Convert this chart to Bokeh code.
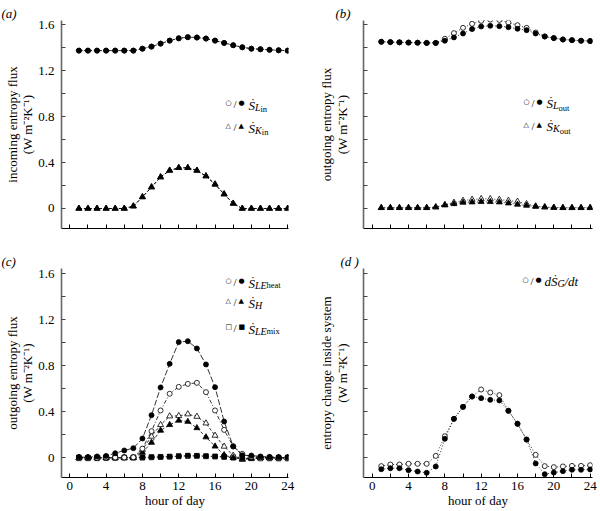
from bokeh.plotting import figure
from bokeh.layouts import gridplot
from bokeh.models import Label, FixedTicker, Range1d
from bokeh.embed import file_html
from bokeh.resources import INLINE

# ---------------- data ----------------
hours = list(range(1, 25))

# (a) incoming entropy flux
s_lin_open = [1.373, 1.373, 1.373, 1.373, 1.373, 1.373, 1.373, 1.39, 1.408, 1.434, 1.46, 1.48,
              1.49, 1.487, 1.478, 1.46, 1.44, 1.42, 1.402, 1.39, 1.385, 1.38, 1.376, 1.373]
s_lin_filled = [1.373, 1.373, 1.373, 1.373, 1.373, 1.373, 1.373, 1.39, 1.408, 1.434, 1.46, 1.48,
                1.49, 1.487, 1.478, 1.46, 1.44, 1.42, 1.402, 1.39, 1.385, 1.38, 1.376, 1.373]
s_kin_open = [0, 0, 0, 0, 0, 0, 0.02, 0.1, 0.186, 0.273, 0.331, 0.354,
              0.354, 0.331, 0.282, 0.212, 0.125, 0.044, 0, 0, 0, 0, 0, 0]
s_kin_filled = [0, 0, 0, 0, 0, 0, 0.02, 0.1, 0.186, 0.273, 0.331, 0.354,
                0.354, 0.331, 0.282, 0.209, 0.125, 0.044, 0, 0, 0, 0, 0, 0]

# (b) outgoing entropy flux (radiation)
s_lout_open = [1.450, 1.447, 1.445, 1.443, 1.442, 1.440, 1.440, 1.476, 1.525, 1.571, 1.606, 1.632,
               1.643, 1.640, 1.617, 1.594, 1.571, 1.530, 1.496, 1.482, 1.470, 1.464, 1.459, 1.456]
s_lout_filled = [1.450, 1.447, 1.445, 1.443, 1.442, 1.440, 1.440, 1.459, 1.488, 1.522, 1.560, 1.583,
                 1.589, 1.586, 1.577, 1.563, 1.551, 1.522, 1.496, 1.482, 1.470, 1.464, 1.459, 1.456]
s_kout_open = [0.006, 0.006, 0.006, 0.006, 0.006, 0.006, 0.012, 0.032, 0.052, 0.069, 0.078, 0.084,
               0.084, 0.078, 0.069, 0.061, 0.040, 0.020, 0.012, 0.008, 0.006, 0.006, 0.006, 0.006]
s_kout_filled = [0.006, 0.006, 0.006, 0.006, 0.006, 0.006, 0.012, 0.029, 0.040, 0.052, 0.055, 0.058,
                 0.058, 0.055, 0.046, 0.035, 0.026, 0.017, 0.012, 0.008, 0.006, 0.006, 0.006, 0.006]

# (c) outgoing entropy flux (turbulent)
s_leheat_open = [0.0, 0.0, 0.0, 0.003, 0.003, 0.003, 0.005, 0.080, 0.232, 0.412, 0.557, 0.617,
                 0.643, 0.652, 0.571, 0.412, 0.243, 0.099, 0.035, 0.010, 0.005, 0.003, 0.0, 0.0]
s_leheat_filled = [0.006, 0.006, 0.012, 0.017, 0.040, 0.064, 0.084, 0.168, 0.371, 0.612, 0.817, 1.006,
                   1.014, 0.951, 0.812, 0.614, 0.316, 0.100, 0.022, 0.020, 0.012, 0.008, 0.006, 0.006]
s_h_open = [0, 0, 0, 0, 0, 0, 0, 0.072, 0.186, 0.287, 0.362, 0.365,
            0.380, 0.359, 0.301, 0.194, 0.099, 0.020, -0.015, -0.005, 0, 0, 0, 0]
s_h_filled = [0, 0, 0, 0, 0, 0, 0, 0.046, 0.133, 0.238, 0.287, 0.325,
              0.315, 0.260, 0.180, 0.100, 0.025, 0.0, -0.010, -0.005, 0, 0, 0, 0]
s_lemix_open = [-0.005, -0.005, -0.005, -0.003, -0.002, 0.0, 0.0, 0.0, 0.003, 0.005, 0.008, 0.012,
                0.015, 0.015, 0.012, 0.010, 0.006, 0.0, -0.008, -0.005, -0.006, -0.006, -0.007, -0.007]
s_lemix_filled = [0.005, 0.003, 0.003, 0.005, 0.005, 0.005, 0.005, 0.005, 0.008, 0.010, 0.012, 0.016,
                  0.020, 0.019, 0.016, 0.013, 0.010, 0.006, 0.005, 0.005, 0.004, 0.003, 0.003, 0.003]

# (d) entropy change inside system
dsg_open = [-0.072, -0.058, -0.058, -0.052, -0.052, -0.052, 0.017, 0.188, 0.339, 0.443, 0.533, 0.594,
            0.568, 0.545, 0.409, 0.296, 0.159, 0.026, -0.072, -0.081, -0.075, -0.070, -0.070, -0.064]
dsg_filled = [-0.099, -0.090, -0.090, -0.107, -0.119, -0.130, -0.075, 0.165, 0.339, 0.443, 0.533, 0.519,
              0.504, 0.499, 0.409, 0.296, 0.159, -0.049, -0.142, -0.128, -0.116, -0.104, -0.104, -0.101]

x_major = [0, 4, 8, 12, 16, 20, 24]
x_minor = [2, 6, 10, 14, 18, 22]
x_all = [0, 2, 4, 6, 8, 10, 12, 14, 16, 18, 20, 22, 24]
y_major = [0, 0.4, 0.8, 1.2, 1.6]
y_minor = [0.2, 0.6, 1.0, 1.4]
y_all = [0, 0.2, 0.4, 0.6, 0.8, 1.0, 1.2, 1.4, 1.6]
unit_label = "(W m\u207b\u00b2K\u207b\u00b9)"

SERIF = "Liberation Serif"
SYM = "DejaVu Sans"


def make_fig(width, height, left, right, top, bottom, xr, yr,
             y_labels, x_labels, ylabel, letter, letter_offset):
    p = figure(width=width, height=height,
               x_range=Range1d(*xr), y_range=Range1d(*yr),
               output_backend="svg", toolbar_location=None,
               min_border_left=left, min_border_right=right,
               min_border_top=top, min_border_bottom=bottom)
    p.xgrid.visible = False
    p.ygrid.visible = False
    p.outline_line_color = None
    p.background_fill_color = "white"
    p.border_fill_color = "white"

    # panel letter as the (left-shifted) title
    p.title.text = letter
    p.title.align = "left"
    p.title.offset = letter_offset
    p.title.standoff = 0
    p.title.text_font = SERIF
    p.title.text_font_size = "13px"
    p.title.text_font_style = "italic"
    p.title.text_color = "black"

    xa = p.xaxis[0]
    xa.major_tick_in = 4
    xa.major_tick_out = 0
    xa.minor_tick_in = 4
    xa.minor_tick_out = 0
    xa.axis_line_color = "black"
    xa.major_tick_line_color = "black"
    xa.minor_tick_line_color = "black"
    xa.major_label_text_font = SERIF
    xa.major_label_text_color = "black"
    if x_labels:
        xa.ticker = FixedTicker(ticks=x_major, minor_ticks=x_minor)
        xa.major_label_text_font_size = "13px"
        xa.major_label_text_line_height = 1.0
        xa.major_label_standoff = 4
        xa.axis_label = "hour of day"
        xa.axis_label_text_font = SERIF
        xa.axis_label_text_font_size = "13px"
        xa.axis_label_text_line_height = 1.0
        xa.axis_label_text_font_style = "normal"
        xa.axis_label_text_color = "black"
        xa.axis_label_standoff = 0
    else:
        xa.ticker = FixedTicker(ticks=[], minor_ticks=x_all)
        xa.major_label_standoff = 0

    ya = p.yaxis[0]
    ya.major_tick_in = 4
    ya.major_tick_out = 0
    ya.minor_tick_in = 4
    ya.minor_tick_out = 0
    ya.axis_line_color = "#666666"
    ya.axis_line_width = 1.6
    ya.major_tick_line_color = "#444444"
    ya.minor_tick_line_color = "#444444"
    ya.major_label_text_font = SERIF
    ya.major_label_text_color = "black"
    ya.axis_label = ylabel
    ya.axis_label_text_font = SERIF
    ya.axis_label_text_font_size = "13px"
    ya.axis_label_text_font_style = "normal"
    ya.axis_label_text_color = "black"
    ya.axis_label_text_line_height = 1.05
    if y_labels:
        ya.ticker = FixedTicker(ticks=y_major, minor_ticks=y_minor)
        ya.major_label_text_font_size = "13px"
        ya.major_label_standoff = 7
        ya.major_label_overrides = {0: "0"}
        ya.axis_label_standoff = 0
    else:
        ya.ticker = FixedTicker(ticks=[], minor_ticks=y_all)
        ya.major_label_standoff = 0
        ya.axis_label_standoff = 14
    return p


def series(p, y, marker, filled, dash, size):
    p.line(hours, y, line_color="black", line_width=0.8, line_dash=dash)
    p.scatter(hours, y, marker=marker, size=size, line_color="black",
              fill_color="black" if filled else "white", line_width=0.8)


def rich(p, x, y, pieces):
    for txt, dx, dy, size, font, style in pieces:
        p.add_layout(Label(x=x, y=y, x_offset=dx, y_offset=dy, text=txt,
                           text_font=font, text_font_size=f"{size}px",
                           text_font_style=style, text_baseline="alphabetic",
                           text_align="left", text_color="black"))


def syms(open_s, filled_s):
    return [(open_s, 0, -2.5, 7, SYM, "normal"),
            ("/", 8, -3.5, 11, SERIF, "normal"),
            (filled_s, 13, -2.5, 7, SYM, "normal")]


def sdot(dx=23):
    return ("\u1e60", dx, -4.5, 13, SERIF, "italic")


XL = (-0.914, 24.09)
XR = (-0.958, 24.26)
YT = (-0.174, 1.635)
YB = (-0.171, 1.646)

CIRC = ("\u25cb", "\u25cf")
TRI = ("\u25b3", "\u25b2")
SQ = ("\u25a1", "\u25a0")

# ---------------- panel (a) ----------------
pa = make_fig(300, 248, 61, 12, 20, 20, XL, YT, True, False,
              "incoming entropy flux\n" + unit_label, "(a)", -60)
series(pa, s_lin_open, "circle", False, "3 2", 5)
series(pa, s_lin_filled, "circle", True, "1 2", 5)
series(pa, s_kin_open, "triangle", False, "3 2", 6)
series(pa, s_kin_filled, "triangle", True, "3 2", 6)
rich(pa, 17.15, 0.939, syms(*CIRC) + [sdot(),
                                      ("L", 29.5, -6.5, 10, SERIF, "italic"),
                                      ("in", 35, -8.5, 8.5, SERIF, "normal")])
rich(pa, 17.15, 0.739, syms(*TRI) + [sdot(),
                                     ("K", 29.5, -6.5, 10, SERIF, "italic"),
                                     ("in", 36.3, -8.5, 8.5, SERIF, "normal")])

# ---------------- panel (b) ----------------
pb = make_fig(300, 248, 63, 8, 20, 20, XR, YT, False, False,
              "outgoing entropy flux\n" + unit_label, "(b)", -28)
series(pb, s_lout_open, "circle", False, "1 2", 5)
series(pb, s_lout_filled, "circle", True, "1 2", 5)
series(pb, s_kout_open, "triangle", False, "1 2", 6)
series(pb, s_kout_filled, "triangle", True, "1 2", 6)
rich(pb, 16.66, 0.948, syms(*CIRC) + [sdot(),
                                      ("L", 29.5, -6.5, 10, SERIF, "italic"),
                                      ("out", 35, -8.5, 8.5, SERIF, "normal")])
rich(pb, 16.66, 0.748, syms(*TRI) + [sdot(),
                                     ("K", 29.5, -6.5, 10, SERIF, "italic"),
                                     ("out", 36.3, -8.5, 8.5, SERIF, "normal")])

# ---------------- panel (c) ----------------
pc = make_fig(300, 263, 61, 12, 20, 34, XL, YB, True, True,
              "outgoing entropy flux\n" + unit_label, "(c)", -60)
series(pc, s_lemix_open, "square", False, "1 2", 4.5)
series(pc, s_lemix_filled, "square", True, "1 2", 4.5)
series(pc, s_h_open, "triangle", False, "3 2", 6)
series(pc, s_h_filled, "triangle", True, "3 2", 6)
series(pc, s_leheat_open, "circle", False, "4 2 1 2", 5)
series(pc, s_leheat_filled, "circle", True, "6 2", 5)
rich(pc, 17.15, 1.559, syms(*CIRC) + [sdot(),
                                      ("LE", 29.5, -6.5, 10, SERIF, "italic"),
                                      ("heat", 41, -6.5, 8.5, SERIF, "normal")])
rich(pc, 17.15, 1.385, syms(*TRI) + [sdot(),
                                     ("H", 29.5, -6.5, 10, SERIF, "italic")])
rich(pc, 17.15, 1.159, syms(*SQ) + [sdot(),
                                    ("LE", 29.5, -6.5, 10, SERIF, "italic"),
                                    ("mix", 41, -6.5, 8.5, SERIF, "normal")])

# ---------------- panel (d) ----------------
pd_ = make_fig(300, 263, 63, 8, 20, 34, XR, YB, False, True,
               "entropy change inside system\n" + unit_label, "(d )", -23)
series(pd_, dsg_open, "circle", False, "1 2", 5)
series(pd_, dsg_filled, "circle", True, "1 2", 5)
rich(pd_, 16.55, 1.568, syms(*CIRC) + [("d", 22, -4.5, 13, SERIF, "italic"),
                                       ("\u1e60", 28.5, -4.5, 13, SERIF, "italic"),
                                       ("G", 35, -6.5, 10, SERIF, "italic"),
                                       ("/dt", 42, -4.5, 13, SERIF, "italic")])

grid = gridplot([[pa, pb], [pc, pd_]], toolbar_location=None)

open("out.html", "w").write(file_html(grid, INLINE))
